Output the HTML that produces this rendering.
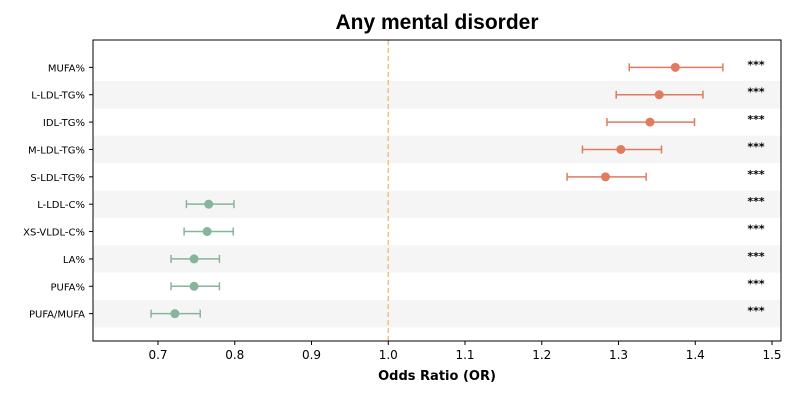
<!DOCTYPE html>
<html><head><meta charset="utf-8"><style>
body{margin:0;background:#fff;width:800px;height:400px;overflow:hidden;font-family:"Liberation Sans","DejaVu Sans",sans-serif}
</style></head><body>
<svg id="chart" width="800" height="400" xmlns="http://www.w3.org/2000/svg" font-family="'DejaVu Sans','Liberation Sans',sans-serif">
<text x="437" y="29" text-anchor="middle" font-size="21" font-weight="bold" font-family="'Liberation Sans',sans-serif">Any mental disorder</text>
<g id="bands"></g><g id="axes"></g><g id="marks"></g>
<text x="437" y="380" text-anchor="middle" font-size="13" font-weight="bold">Odds Ratio (OR)</text>
</svg>
<script>
const labels=["MUFA%","L-LDL-TG%","IDL-TG%","M-LDL-TG%","S-LDL-TG%","L-LDL-C%","XS-VLDL-C%","LA%","PUFA%","PUFA/MUFA"];
const orValues=[1.374,1.353,1.341,1.303,1.283,0.766,0.764,0.747,0.747,0.722];
const ciLow=[1.314,1.297,1.285,1.253,1.233,0.737,0.734,0.717,0.717,0.691];
const ciHigh=[1.436,1.410,1.399,1.356,1.336,0.799,0.798,0.780,0.780,0.755];
const sig=["***","***","***","***","***","***","***","***","***","***"];
const xTicks=[0.7,0.8,0.9,1.0,1.1,1.2,1.3,1.4,1.5];
const L=93,R=781,T=40,B=341,xmin=0.6153,xmax=1.5117;
const X=v=>L+(v-xmin)/(xmax-xmin)*(R-L);
const Y=i=>T+(i+1)*(B-T)/11;
const NS="http://www.w3.org/2000/svg";
function mk(tag,attrs,parent,txt){const e=document.createElementNS(NS,tag);for(const k in attrs)e.setAttribute(k,attrs[k]);if(txt!==undefined)e.textContent=txt;document.getElementById(parent).appendChild(e);return e;}
const rowH=(B-T)/11;
labels.forEach((l,i)=>{
 if(i%2===1){const b=mk('rect',{x:L,y:Y(i)-rowH/2,width:R-L,height:rowH,fill:'#f5f5f5'},'bands');
 
 }
 mk('line',{x1:L-4,x2:L,y1:Y(i),y2:Y(i),stroke:'#000'},'axes');
 const t=mk('text',{x:L-8,y:Y(i)+4,'text-anchor':'end','font-size':10},'axes',l);
 
 
});
xTicks.forEach(v=>{
 mk('line',{x1:X(v),x2:X(v),y1:B,y2:B+4,stroke:'#000'},'axes');
 const t=mk('text',{x:X(v),y:B+18,'text-anchor':'middle','font-size':12},'axes',v.toFixed(1));
 
 
});
const ref=mk('line',{x1:X(1),x2:X(1),y1:T,y2:B,stroke:'#f0c27a','stroke-width':1.5,'stroke-dasharray':'5,3'},'axes');


const fr=mk('rect',{x:L,y:T,width:R-L,height:B-T,fill:'none',stroke:'#000','stroke-width':1},'axes');


labels.forEach((l,i)=>{
 const c=orValues[i]>1?'#e07b5f':'#86b59b';const y=Y(i);
 const g=mk('g',{},'marks');
 
 
 const add=(tag,a)=>{const e=document.createElementNS(NS,tag);for(const k in a)e.setAttribute(k,a[k]);g.appendChild(e);};
 add('line',{x1:X(ciLow[i]),x2:X(ciHigh[i]),y1:y,y2:y,stroke:c,'stroke-width':1.5});
 add('line',{x1:X(ciLow[i]),x2:X(ciLow[i]),y1:y-4,y2:y+4,stroke:c,'stroke-width':1.5});
 add('line',{x1:X(ciHigh[i]),x2:X(ciHigh[i]),y1:y-4,y2:y+4,stroke:c,'stroke-width':1.5});
 add('circle',{cx:X(orValues[i]),cy:y,r:4.5,fill:c});
 const s=mk('text',{x:756,y:y+1,'text-anchor':'middle','font-size':11,'font-weight':'bold'},'marks',sig[i]);
 
 
});
</script>
</body></html>
